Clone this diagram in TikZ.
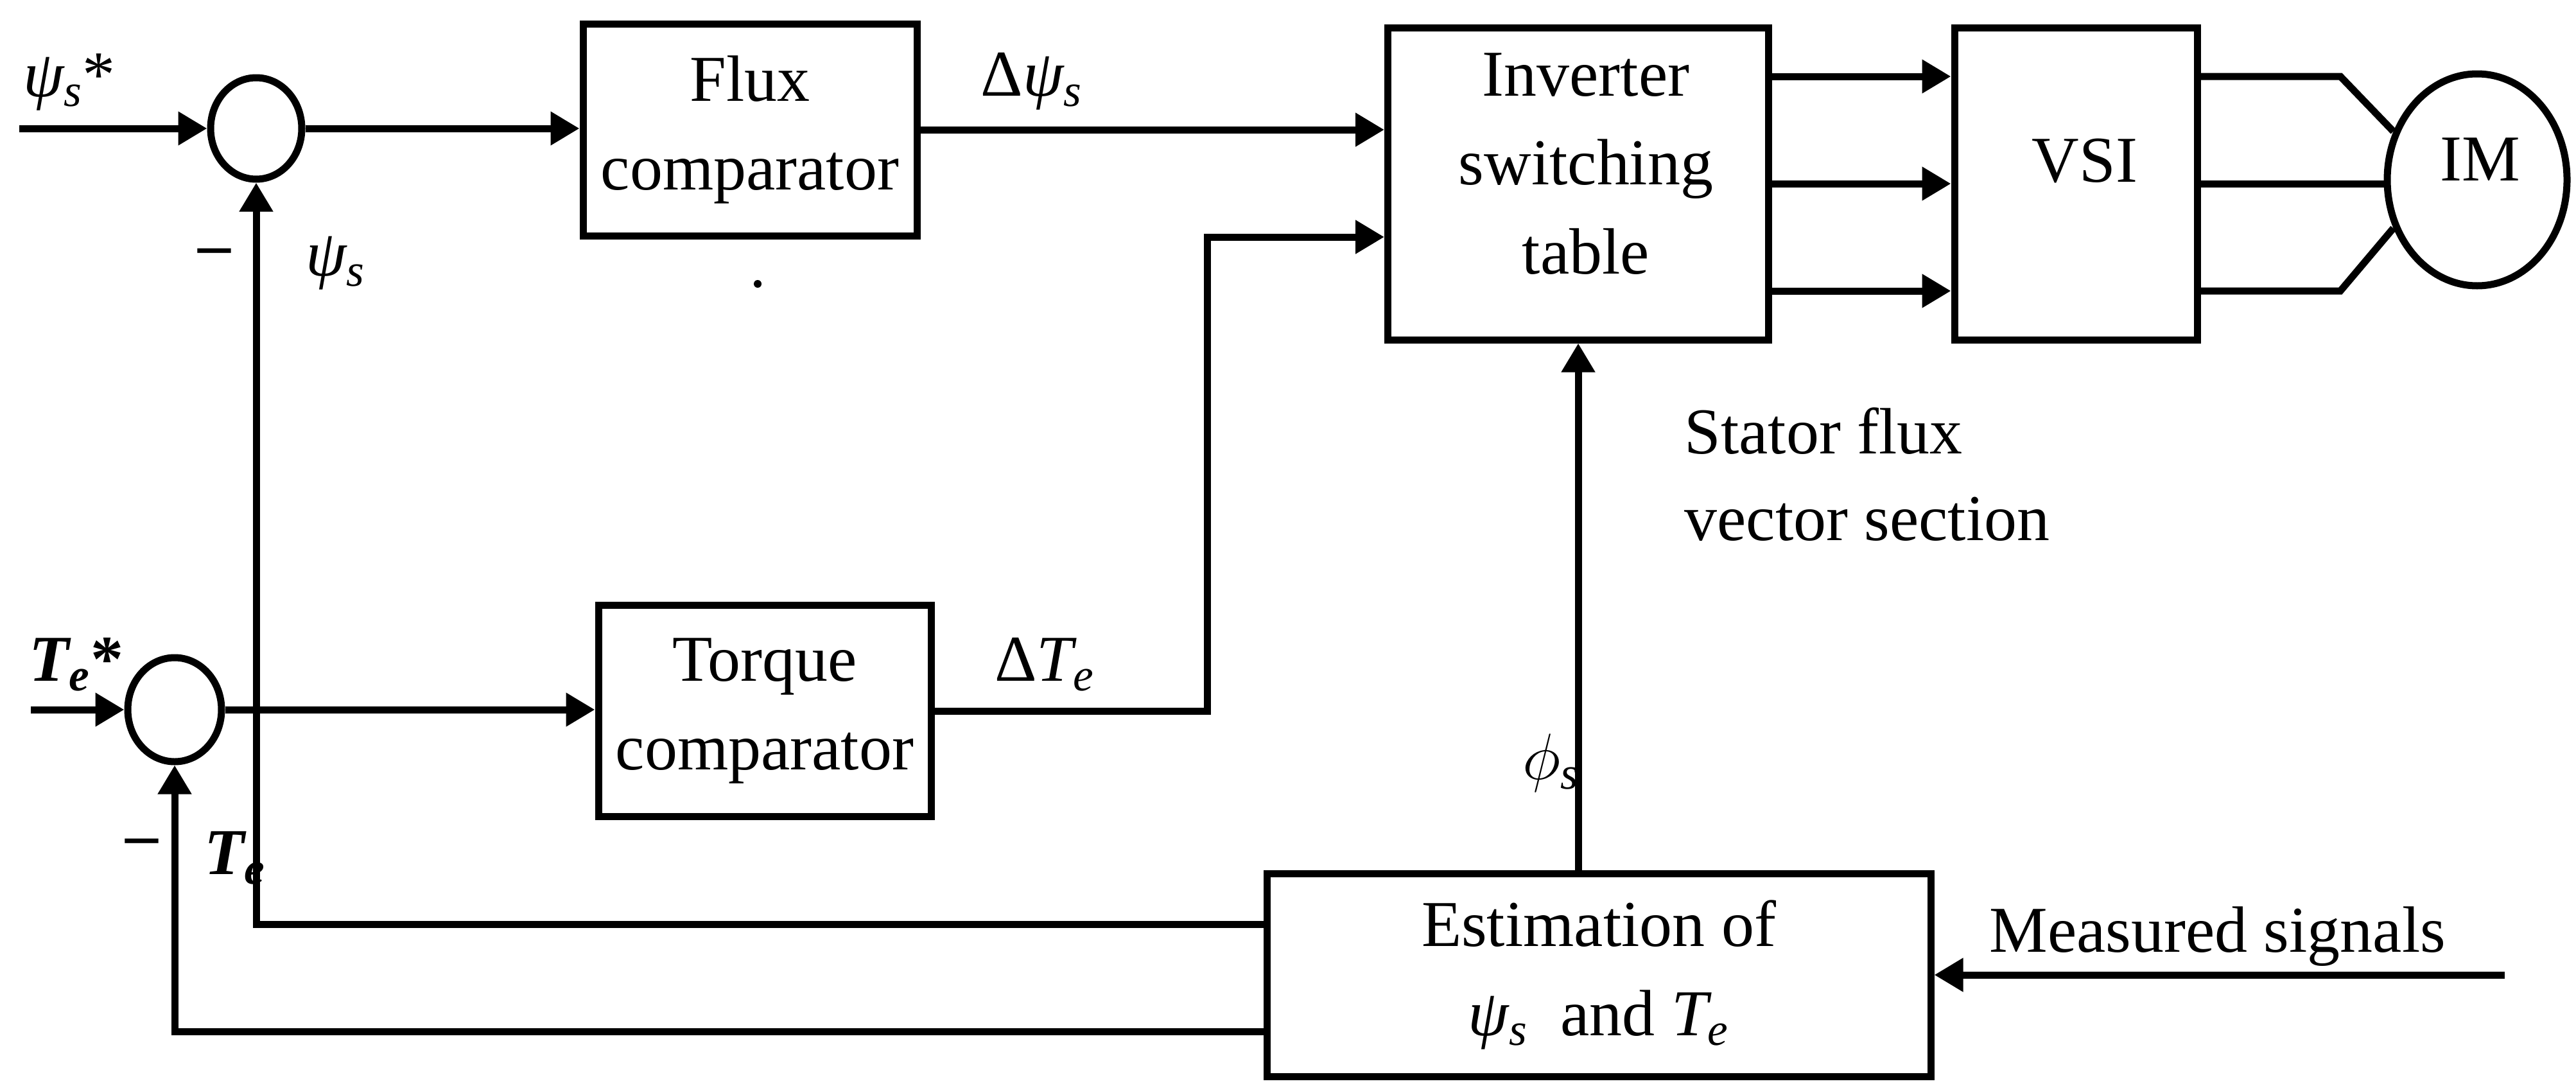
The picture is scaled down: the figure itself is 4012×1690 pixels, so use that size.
\RequirePackage{fix-cm}
\documentclass[tikz,border=0pt]{standalone}
\usepackage{fontspec}
\setmainfont{Liberation Serif}
\usetikzlibrary{arrows.meta,shapes.geometric}
\newcommand\isub[1]{\textsubscript{\itshape #1}}
\newcommand\gpsi{{\itshape ψ}}
\begin{document}
\begin{tikzpicture}[x=0.1mm,y=-0.1mm,line width=1.1mm,
  every node/.style={font=\fontsize{29}{39.5}\selectfont, inner sep=0pt, align=center},
  blk/.style={draw, rectangle},
  sumc/.style={draw, ellipse},
  arr/.style={-{Triangle[length=4.5mm,width=5mm]}}
]
\useasboundingbox (0,0) rectangle (4012,1690);

% blocks
\node[sumc, minimum width=14.2mm, minimum height=15.8mm] (s1) at (399,200) {};
\node[sumc, minimum width=14.6mm, minimum height=16.2mm] (s2) at (272,1105) {};
\node[blk, minimum width=52mm, minimum height=33mm] (flux) at (1168,202) {Flux\\comparator};
\node[blk, minimum width=51.8mm, minimum height=32.9mm] (torque) at (1191,1107) {Torque\\comparator};
\node[blk, minimum width=59.3mm, minimum height=48.6mm] (inv) at (2458,286) {};
\node (invt) at (2470,255) {Inverter\\switching\\table};
\node[blk, minimum width=37.8mm, minimum height=48.6mm] (vsi) at (3233,286) {};
\node (vsit) at (3247,251) {VSI};
\node[draw, ellipse, minimum width=28mm, minimum height=33mm] (im) at (3858,280) {};
\node (imt) at (3863,248) {IM};
\node[blk, minimum width=103.4mm, minimum height=31.6mm] (est) at (2490,1518) {Estimation of\\\gpsi\isub{s}\ \ and {\itshape T}\isub{e}};

% coordinates
\coordinate (psin) at (30,200);
\coordinate (tein) at (48,1105);
\coordinate (k1) at (1880,369);
\coordinate (w1) at (3645,119);
\coordinate (w3) at (3645,453);
\coordinate (ms) at (3901,1518);

% connectors
\draw[arr] (psin) -- (s1.west);
\draw[arr] (s1.east) -- (s1.east -| flux.west);
\draw[arr] (flux.east) -- (flux.east -| inv.west);
\draw[arr] (tein) -- (s2.west);
\draw[arr] (s2.east) -- (s2.east -| torque.west);
\draw[arr] (torque.east) -| (k1) -- (k1 -| inv.west);
\draw[arr] ([yshift=16.7mm]inv.east) -- ([yshift=16.7mm]vsi.west);
\draw[arr] (inv.east) -- (vsi.west);
\draw[arr] ([yshift=-16.7mm]inv.east) -- ([yshift=-16.7mm]vsi.west);
\draw ([yshift=16.7mm]vsi.east) -- (w1) -- (im.150);
\draw (vsi.east) -- (vsi.east -| im.west);
\draw ([yshift=-16.7mm]vsi.east) -- (w3) -- (im.210);
\draw[arr] (est.north -| inv.south) -- (inv.south);
\draw[arr] ([yshift=7.9mm]est.west) -| (s1.south);
\draw[arr] ([yshift=-8.8mm]est.west) -| (s2.south);
\draw[arr] (ms) -- (est.east);

% labels
\node (lpsistar) at (108,128) {\gpsi\isub{s}*};
\node (lm1) at (334,401) {\textbf{\textendash}};
\node (lpsis) at (523,410) {\gpsi\isub{s}};
\node (ltestar) at (119,1035) {{\bfseries\itshape T}\textsubscript{\bfseries\itshape e}\textbf{*}};
\node (lm2) at (221,1320) {\textbf{\textendash}};
\node (lte) at (366,1336) {{\bfseries\itshape T}\textsubscript{\bfseries\itshape e}};
\node (ldpsi) at (1607,127) {Δ\gpsi\isub{s}};
\node (ldte) at (1627,1035) {Δ{\itshape T}\isub{e}};
\node (lphi) at (2416,1188) {$\phi$\isub{s}};
\node[anchor=base west] (lst1) at (2618,706) {Stator flux};
\node[anchor=base west] (lst2) at (2618,841) {vector section};
\node[anchor=base west] (lms) at (3093,1482) {Measured signals};
\fill (1180,442) circle[radius=0.6mm];
\end{tikzpicture}
\end{document}
